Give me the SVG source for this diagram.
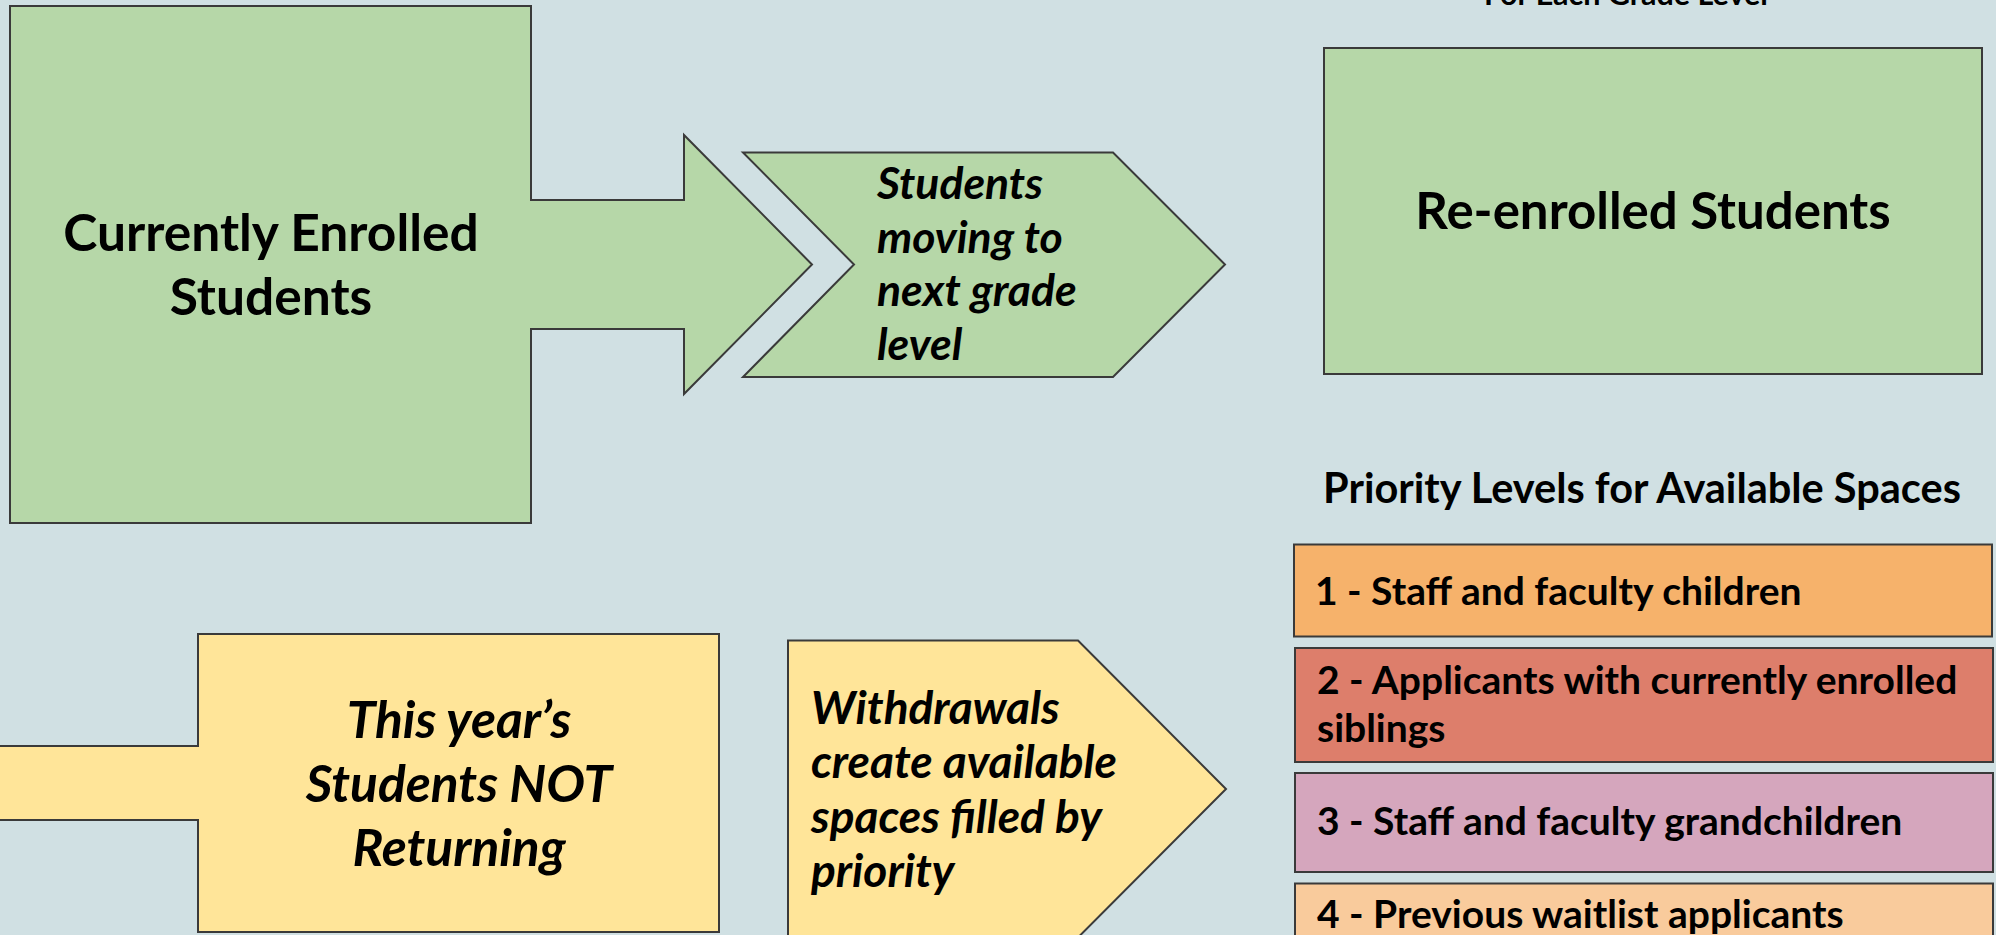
<svg xmlns="http://www.w3.org/2000/svg" width="1996" height="935" viewBox="0 0 1996 935">
<style>
.sh{stroke:#3a3a3a;stroke-width:2;stroke-linejoin:miter}
.g{fill:#b6d7a8}
.y{fill:#ffe599}
.t{font-family:Lato,"Liberation Sans",sans-serif;fill:#000;font-weight:bold}
.i{font-style:italic}
</style>
<rect x="0" y="0" width="1996" height="935" fill="#d0e0e3"/>
<text class="t" x="1626" y="5" font-size="30.5" text-anchor="middle">For Each Grade Level</text>
<g id="current">
<polygon class="sh g" points="10,6 531,6 531,200 684,200 684,135 812,264.5 684,394 684,329 531,329 531,523 10,523"/>
<text class="t" font-size="51.5" text-anchor="middle"><tspan x="271" y="251">Currently Enrolled</tspan><tspan x="271" y="315">Students</tspan></text>
</g>
<g id="moving">
<polygon class="sh g" points="743,152.5 1113,152.5 1225,264.5 1113,377 743,377 854,264.5"/>
<text class="t i" font-size="44.5"><tspan x="877" y="199">Students</tspan><tspan x="877" y="253">moving to</tspan><tspan x="877" y="306">next grade</tspan><tspan x="877" y="360">level</tspan></text>
</g>
<g id="reenrolled">
<rect class="sh g" x="1324" y="48" width="658" height="326"/>
<text class="t" x="1653" y="229" font-size="51" text-anchor="middle">Re-enrolled Students</text>
</g>
<text class="t" x="1642" y="503" font-size="41.5" text-anchor="middle">Priority Levels for Available Spaces</text>
<g id="notreturning">
<polygon class="sh y" points="-60,746 198,746 198,634 719,634 719,932 198,932 198,820 -60,820"/>
<text class="t i" font-size="51.5" text-anchor="middle"><tspan x="459" y="738">This year’s</tspan><tspan x="459" y="802">Students NOT</tspan><tspan x="459" y="866">Returning</tspan></text>
</g>
<g id="withdrawals">
<polygon class="sh y" points="788,640.5 1078,640.5 1226,789 1078,937.5 788,937.5"/>
<text class="t i" font-size="46"><tspan x="811" y="724">Withdrawals</tspan><tspan x="811" y="778">create available</tspan><tspan x="811" y="833">spaces filled by</tspan><tspan x="811" y="887">priority</tspan></text>
</g>
<g id="p1">
<rect class="sh" fill="#f6b26b" x="1294" y="544.5" width="698" height="92"/>
<text class="t" x="1315" y="605" font-size="39">1 - Staff and faculty children</text>
</g>
<g id="p2">
<rect class="sh" fill="#dd7e6b" x="1295" y="648" width="698" height="114"/>
<text class="t" font-size="39"><tspan x="1317" y="694">2 - Applicants with currently enrolled</tspan><tspan x="1317" y="742">siblings</tspan></text>
</g>
<g id="p3">
<rect class="sh" fill="#d5a6bd" x="1295" y="773" width="698" height="99"/>
<text class="t" x="1317" y="835" font-size="39">3 - Staff and faculty grandchildren</text>
</g>
<g id="p4">
<rect class="sh" fill="#f9cb9c" x="1295" y="883.5" width="698" height="80"/>
<text class="t" x="1317" y="928" font-size="39">4 - Previous waitlist applicants</text>
</g>
<g id="connectors"></g>
</svg>
